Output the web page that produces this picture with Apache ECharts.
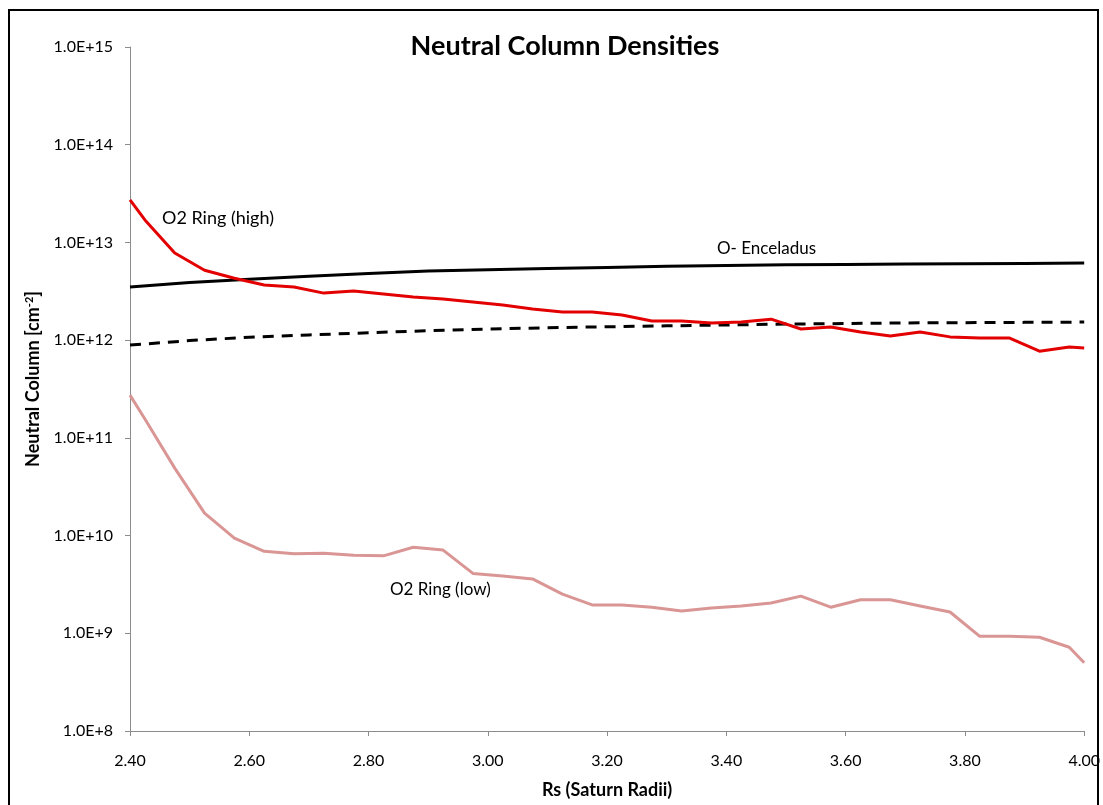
<!DOCTYPE html>
<html>
<head>
<meta charset="utf-8">
<script src="https://cdn.jsdelivr.net/npm/echarts@6/dist/echarts.min.js"></script>
<style>
  html, body { margin: 0; padding: 0; background: #fff; }
  #frame {
    position: absolute; left: 8px; top: 9px; width: 1091px; height: 800px;
    border: 2px solid #000; box-sizing: border-box;
  }
  #chart { position: absolute; left: 0; top: 0; width: 1103px; height: 805px; }
</style>
</head>
<body>
<div id="frame"></div>
<div id="chart"></div>
<script>
// radial distance (Rs) for the O2 ring runs
const radiiO2 = [2.40, 2.425, 2.475, 2.525, 2.575, 2.625, 2.675, 2.725, 2.775, 2.825, 2.875, 2.925,
  2.975, 3.025, 3.075, 3.125, 3.175, 3.225, 3.275, 3.325, 3.375, 3.425, 3.475, 3.525, 3.575,
  3.625, 3.675, 3.725, 3.775, 3.825, 3.875, 3.925, 3.975, 4.00]
const o2High = [2.72e13, 1.7e13, 7.8e12, 5.2e12, 4.3e12, 3.66e12, 3.5e12, 3.03e12, 3.18e12, 2.97e12,
  2.76e12, 2.64e12, 2.45e12, 2.29e12, 2.08e12, 1.94e12, 1.94e12, 1.81e12, 1.57e12, 1.57e12,
  1.50e12, 1.53e12, 1.64e12, 1.30e12, 1.36e12, 1.21e12, 1.10e12, 1.21e12, 1.08e12, 1.05e12,
  1.05e12, 7.7e11, 8.5e11, 8.3e11]
const o2Low = [2.74e11, 1.56e11, 4.9e10, 1.70e10, 9.4e9, 6.9e9, 6.5e9, 6.6e9, 6.3e9, 6.2e9,
  7.6e9, 7.1e9, 4.1e9, 3.86e9, 3.6e9, 2.52e9, 1.95e9, 1.95e9, 1.85e9, 1.69e9,
  1.81e9, 1.90e9, 2.04e9, 2.4e9, 1.85e9, 2.2e9, 2.2e9, 1.9e9, 1.65e9, 9.3e8,
  9.3e8, 9.1e8, 7.2e8, 5.0e8]

// O- from Enceladus
const radiiEnc = [2.40, 2.50, 2.60, 2.70, 2.80, 2.90, 3.00, 3.10, 3.20, 3.30, 3.40, 3.50, 3.60, 3.70, 3.80, 3.90, 4.00]
const encHigh = [3.5e12, 3.9e12, 4.2e12, 4.5e12, 4.8e12, 5.1e12, 5.25e12, 5.4e12, 5.55e12, 5.7e12,
  5.8e12, 5.9e12, 5.95e12, 6.0e12, 6.05e12, 6.1e12, 6.15e12]
const encLow = [8.9e11, 9.9e11, 1.07e12, 1.13e12, 1.19e12, 1.25e12, 1.30e12, 1.34e12, 1.37e12, 1.40e12,
  1.43e12, 1.46e12, 1.48e12, 1.50e12, 1.51e12, 1.52e12, 1.53e12]

const FONT = 'Lato, "Open Sans", sans-serif'

const pairs = (xs, ys) => xs.map((x, i) => [x, ys[i]])

const chart = echarts.init(document.getElementById('chart'), null, { renderer: 'canvas' })

const lineSeries = (name, xs, ys, color, type) => {
  return {
    name: name,
    type: 'line',
    data: pairs(xs, ys),
    showSymbol: false,
    symbol: 'none',
    animation: false,
    lineStyle: { color: color, width: 3, type: type || 'solid', join: 'round' },
    z: 3
  }
}

const option = {
  animation: false,
  title: {
    text: 'Neutral Column Densities',
    left: 560,
    textAlign: 'center',
    top: 28,
    textStyle: { fontFamily: FONT, fontSize: 27, fontWeight: 'bold', color: '#000' }
  },
  grid: { left: 130, right: 18, top: 47, bottom: 74 },
  xAxis: {
    type: 'value',
    min: 2.4,
    max: 4.0,
    interval: 0.2,
    name: 'Rs (Saturn Radii)',
    nameLocation: 'middle',
    nameGap: 50,
    nameTextStyle: { fontFamily: FONT, fontSize: 18, fontWeight: 'bold', color: '#000' },
    axisLine: { lineStyle: { color: '#8c8c8c', width: 1 } },
    axisTick: { show: true, length: 5, lineStyle: { color: '#8c8c8c' } },
    axisLabel: {
      fontFamily: FONT, fontSize: 16, color: '#000', margin: 22,
      formatter: v => v.toFixed(2)
    },
    splitLine: { show: false }
  },
  yAxis: {
    type: 'log',
    logBase: 10,
    min: 1e8,
    max: 1e15,
    name: '{a|Neutral Column [cm}{s|-2}{a|]}',
    nameLocation: 'middle',
    nameRotate: 90,
    nameGap: 86,
    nameTextStyle: {
      padding: [0, 0, 0, 20],
      rich: {
        a: { fontFamily: FONT, fontSize: 18, fontWeight: 'bold', color: '#000' },
        s: { fontFamily: FONT, fontSize: 11, fontWeight: 'bold', color: '#000', verticalAlign: 'top', padding: [0, 0, 9, 0] }
      }
    },
    axisLine: { show: true, lineStyle: { color: '#8c8c8c', width: 1 } },
    axisTick: { show: true, length: 5, lineStyle: { color: '#8c8c8c' } },
    axisLabel: {
      fontFamily: FONT, fontSize: 16, color: '#000', margin: 17,
      formatter: v => v.toExponential(1).toUpperCase()
    },
    splitLine: { show: false }
  },
  graphic: [
    { type: 'text', left: 162, top: 209, style: { text: 'O2 Ring (high)', font: '18px ' + FONT, fill: '#000' } },
    { type: 'text', left: 717, top: 240, style: { text: 'O- Enceladus', font: '17px ' + FONT, fill: '#000' } },
    { type: 'text', left: 390, top: 581, style: { text: 'O2 Ring (low)', font: '17px ' + FONT, fill: '#000' } }
  ],
  series: [
    lineSeries('O2 Ring (low)', radiiO2, o2Low, '#d99694'),
    lineSeries('O- Enceladus', radiiEnc, encHigh, '#000000'),
    lineSeries('O- Enceladus (low)', radiiEnc, encLow, '#000000', [11, 8]),
    lineSeries('O2 Ring (high)', radiiO2, o2High, '#e30000')
  ]
}

chart.setOption(option)
</script>
</body>
</html>
